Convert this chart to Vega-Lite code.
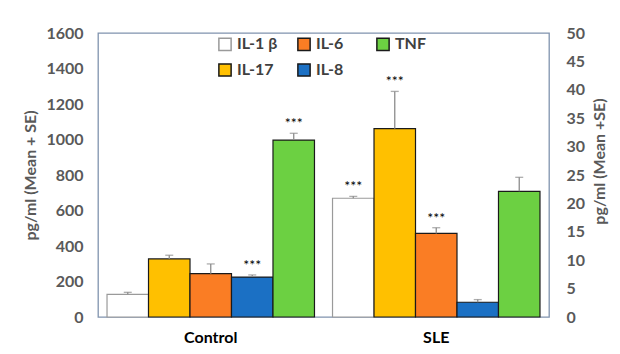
{
  "$schema": "https://vega.github.io/schema/vega-lite/v6.json",
  "width": 451,
  "height": 284,
  "autosize": "none",
  "padding": {"left": 98, "top": 33, "right": 71, "bottom": 37},
  "background": "white",
  "config": {
    "view": {"stroke": "#8093AE", "strokeWidth": 1.3},
    "font": "Lato",
    "axis": {"labelFont": "Lato", "titleFont": "Lato"},
    "axisLeft": {"labelOverlap": false}
  },
  "data": {
    "values": [
      {"group": "Control", "cytokine": "IL-1 β", "value": 128, "err": 139, "sig": ""},
      {"group": "Control", "cytokine": "IL-17", "value": 327, "err": 348, "sig": ""},
      {"group": "Control", "cytokine": "IL-6", "value": 244, "err": 299, "sig": ""},
      {"group": "Control", "cytokine": "IL-8", "value": 225, "err": 237, "sig": "***"},
      {"group": "Control", "cytokine": "TNF", "value": 997, "err": 1035, "sig": "***"},
      {"group": "SLE", "cytokine": "IL-1 β", "value": 669, "err": 680, "sig": "***"},
      {"group": "SLE", "cytokine": "IL-17", "value": 1061, "err": 1271, "sig": "***"},
      {"group": "SLE", "cytokine": "IL-6", "value": 471, "err": 503, "sig": "***"},
      {"group": "SLE", "cytokine": "IL-8", "value": 83, "err": 98, "sig": ""},
      {"group": "SLE", "cytokine": "TNF", "value": 708, "err": 787, "sig": ""}
    ]
  },
  "layer": [
    {
      "encoding": {
        "x": {
          "field": "group",
          "type": "nominal",
          "sort": ["Control", "SLE"],
          "scale": {"paddingInner": 0.08, "paddingOuter": 0.04},
          "axis": {
            "title": null,
            "labelAngle": 0,
            "domain": false,
            "ticks": false,
            "labelFontSize": 16,
            "labelFontWeight": "bold",
            "labelColor": "#000000",
            "labelPadding": 12,
            "labelDx": -12
          }
        },
        "xOffset": {
          "field": "cytokine",
          "type": "nominal",
          "scale": {"domain": ["IL-1 β", "IL-17", "IL-6", "IL-8", "TNF"], "paddingInner": 0, "paddingOuter": 0}
        }
      },
      "layer": [
        {
          "mark": {"type": "bar", "strokeWidth": 1.2},
          "encoding": {
            "y": {
              "field": "value",
              "type": "quantitative",
              "scale": {"domain": [0, 1600], "nice": false},
              "axis": {
                "title": "pg/ml (Mean + SE)",
                "values": [0, 200, 400, 600, 800, 1000, 1200, 1400, 1600],
                "format": "d",
                "labelOverlap": false,
                "grid": false,
                "ticks": false,
                "domain": false,
                "labelFontSize": 16,
                "labelFontWeight": "bold",
                "labelColor": "#595959",
                "labelPadding": 15,
                "titleFontSize": 16,
                "titleFontWeight": "bold",
                "titleColor": "#595959",
                "titlePadding": 7
              }
            },
            "fill": {
              "field": "cytokine",
              "type": "nominal",
              "scale": {
                "domain": ["IL-1 β", "IL-17", "IL-6", "IL-8", "TNF"],
                "range": ["#FFFFFF", "#FFC000", "#FA7D24", "#1B70C4", "#6CD042"]
              },
              "legend": {
                "title": null,
                "orient": "none",
                "legendX": 119,
                "legendY": 3,
                "columns": 3,
                "gridAlign": "all",
                "columnPadding": 16,
                "rowPadding": 6,
                "symbolType": "square",
                "symbolSize": 150,
                "symbolStrokeWidth": 1.5,
                "labelFont": "Lato",
                "labelFontSize": 16,
                "labelFontWeight": "bold",
                "labelColor": "#404040",
                "labelOffset": 4
              }
            },
            "stroke": {
              "field": "cytokine",
              "type": "nominal",
              "scale": {
                "domain": ["IL-1 β", "IL-17", "IL-6", "IL-8", "TNF"],
                "range": ["#9A9A9A", "#1A1A1A", "#1A1A1A", "#1A1A1A", "#1A1A1A"]
              },
              "legend": {
                "title": null,
                "orient": "none",
                "legendX": 119,
                "legendY": 3,
                "columns": 3,
                "gridAlign": "all",
                "columnPadding": 16,
                "rowPadding": 6,
                "symbolType": "square",
                "symbolSize": 150,
                "symbolStrokeWidth": 1.5,
                "labelFont": "Lato",
                "labelFontSize": 16,
                "labelFontWeight": "bold",
                "labelColor": "#404040",
                "labelOffset": 4
              }
            }
          }
        },
        {
          "mark": {"type": "rule", "color": "#8C8C8C", "strokeWidth": 1.3},
          "encoding": {
            "y": {
              "field": "value",
              "type": "quantitative",
              "axis": {
                "title": "pg/ml (Mean + SE)",
                "values": [0, 200, 400, 600, 800, 1000, 1200, 1400, 1600],
                "format": "d",
                "labelOverlap": false,
                "grid": false,
                "ticks": false,
                "domain": false,
                "labelFontSize": 16,
                "labelFontWeight": "bold",
                "labelColor": "#595959",
                "labelPadding": 15,
                "titleFontSize": 16,
                "titleFontWeight": "bold",
                "titleColor": "#595959",
                "titlePadding": 7
              }
            },
            "y2": {"field": "err"}
          }
        },
        {
          "mark": {"type": "tick", "color": "#8C8C8C", "size": 8, "thickness": 1.3},
          "encoding": {
            "y": {
              "field": "err",
              "type": "quantitative",
              "axis": {
                "title": "pg/ml (Mean + SE)",
                "values": [0, 200, 400, 600, 800, 1000, 1200, 1400, 1600],
                "format": "d",
                "labelOverlap": false,
                "grid": false,
                "ticks": false,
                "domain": false,
                "labelFontSize": 16,
                "labelFontWeight": "bold",
                "labelColor": "#595959",
                "labelPadding": 15,
                "titleFontSize": 16,
                "titleFontWeight": "bold",
                "titleColor": "#595959",
                "titlePadding": 7
              }
            }
          }
        },
        {
          "mark": {"type": "text", "baseline": "bottom", "dy": -2, "fontSize": 14, "color": "#000000", "font": "Lato"},
          "encoding": {
            "y": {
              "field": "err",
              "type": "quantitative",
              "axis": {
                "title": "pg/ml (Mean + SE)",
                "values": [0, 200, 400, 600, 800, 1000, 1200, 1400, 1600],
                "format": "d",
                "labelOverlap": false,
                "grid": false,
                "ticks": false,
                "domain": false,
                "labelFontSize": 16,
                "labelFontWeight": "bold",
                "labelColor": "#595959",
                "labelPadding": 15,
                "titleFontSize": 16,
                "titleFontWeight": "bold",
                "titleColor": "#595959",
                "titlePadding": 7
              }
            },
            "text": {"field": "sig"}
          }
        }
      ]
    },
    {
      "mark": {"type": "rule", "opacity": 0},
      "encoding": {
        "y": {
          "datum": 0,
          "type": "quantitative",
          "scale": {"domain": [0, 50], "nice": false},
          "axis": {
            "orient": "right",
            "title": "pg/ml (Mean +SE)",
            "values": [0, 5, 10, 15, 20, 25, 30, 35, 40, 45, 50],
            "labelOverlap": false,
            "grid": false,
            "ticks": false,
            "domain": false,
            "labelFontSize": 16,
            "labelFontWeight": "bold",
            "labelColor": "#595959",
            "labelPadding": 17,
            "titleFontSize": 16,
            "titleFontWeight": "bold",
            "titleColor": "#595959",
            "titleAngle": 270,
            "titleX": 58,
            "titleY": 128
          }
        }
      }
    }
  ],
  "resolve": {"scale": {"y": "independent"}}
}
